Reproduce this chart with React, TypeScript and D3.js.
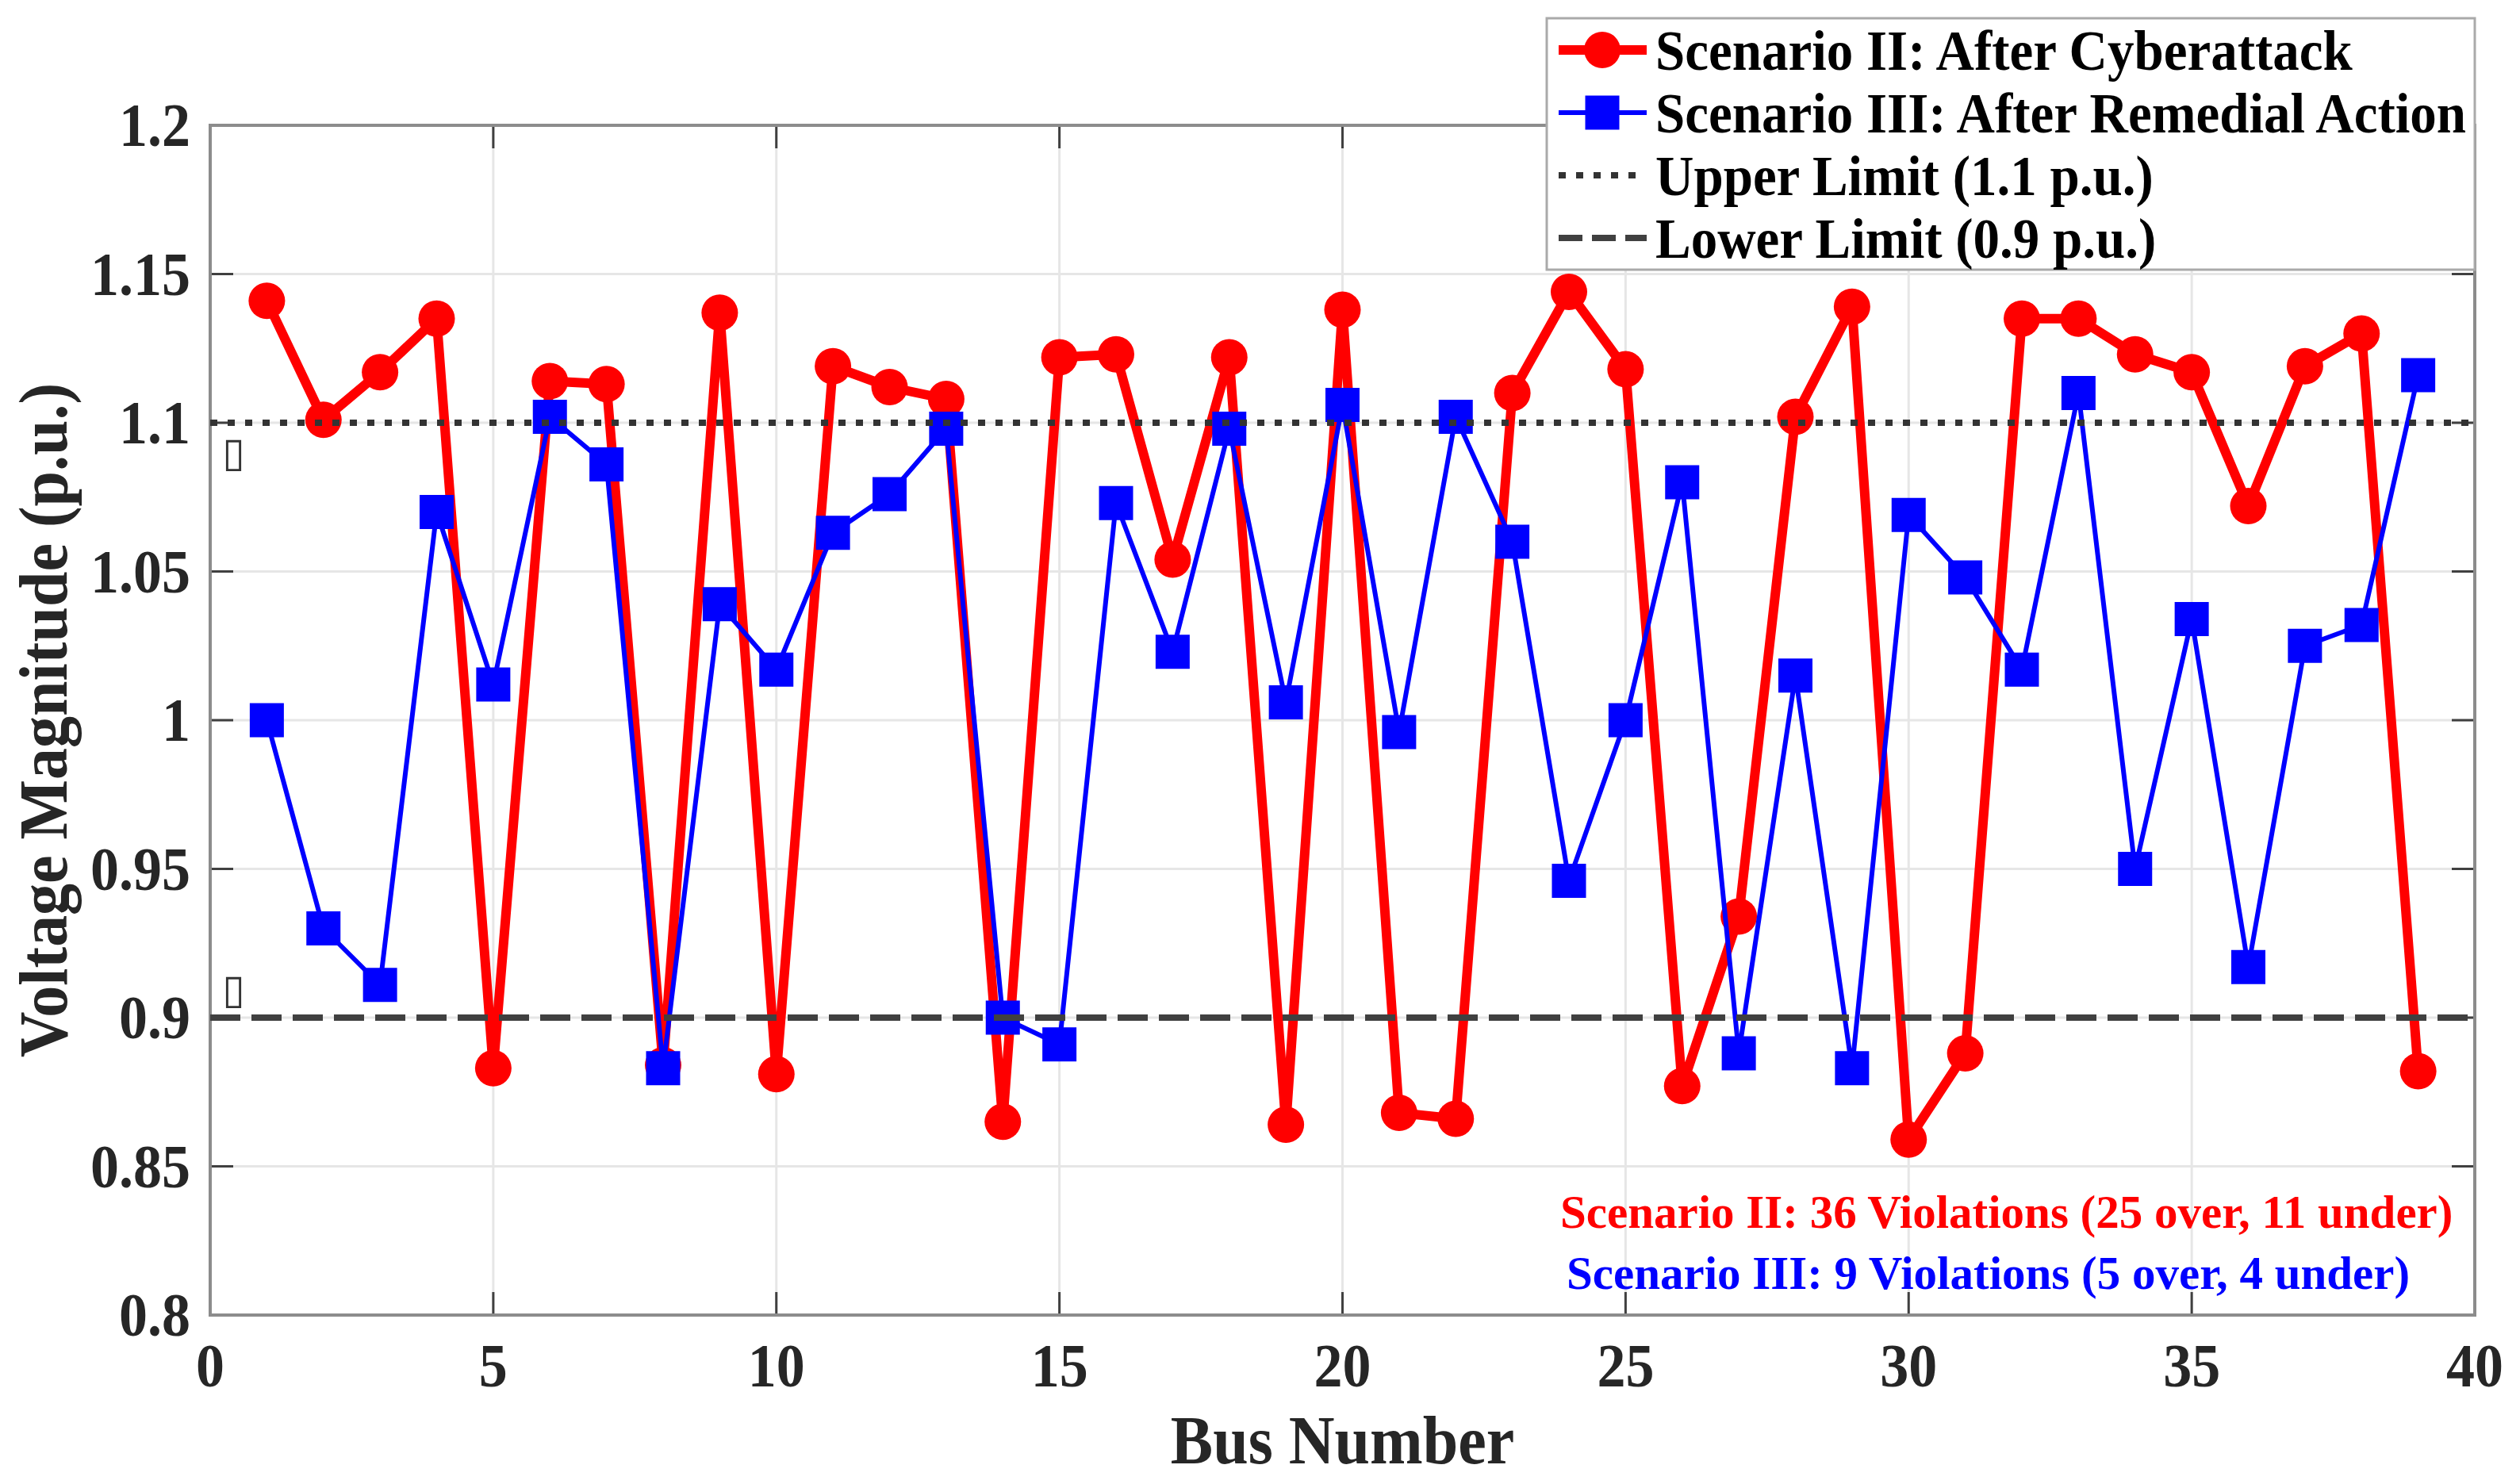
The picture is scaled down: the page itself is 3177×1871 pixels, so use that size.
import React, { useEffect } from "react";
import * as d3 from "d3";

const buses = d3.range(1, 40);
const scenario2 = [
  1.141, 1.101, 1.117, 1.135, 0.883, 1.114, 1.113, 0.884, 1.137, 0.881,
  1.119, 1.112, 1.108, 0.865, 1.122, 1.123, 1.054, 1.122, 0.864, 1.138,
  0.868, 0.866, 1.11, 1.144, 1.118, 0.877, 0.934, 1.102, 1.139, 0.859,
  0.888, 1.135, 1.135, 1.123, 1.117, 1.072, 1.119, 1.13, 0.882,
];
const scenario3 = [
  1.0, 0.93, 0.911, 1.07, 1.012, 1.102, 1.086, 0.883, 1.039, 1.017,
  1.063, 1.076, 1.098, 0.9, 0.891, 1.073, 1.023, 1.098, 1.006, 1.106,
  0.996, 1.102, 1.06, 0.946, 1.0, 1.08, 0.888, 1.015, 0.883, 1.069,
  1.048, 1.017, 1.11, 0.95, 1.034, 0.917, 1.025, 1.032, 1.116,
];
const xTicks = [0, 5, 10, 15, 20, 25, 30, 35, 40];
const yTicks = [0.8, 0.85, 0.9, 0.95, 1.0, 1.05, 1.1, 1.15, 1.2];
const yTickLabels = ["0.8", "0.85", "0.9", "0.95", "1", "1.05", "1.1", "1.15", "1.2"];
const upperLimit = 1.1;
const lowerLimit = 0.9;
const legendLabels = [
  "Scenario II: After Cyberattack",
  "Scenario III: After Remedial Action",
  "Upper Limit (1.1 p.u.)",
  "Lower Limit (0.9 p.u.)",
];
const annotations = [
  "Scenario II: 36 Violations (25 over, 11 under)",
  "Scenario III: 9 Violations (5 over, 4 under)",
];

const W = 3177;
const H = 1871;
const L = 265, R = 3120, T = 158, B = 1658;
const FONT = "'Liberation Serif', 'Times New Roman', serif";
const RED = "#ff0000";
const BLUE = "#0000ff";
const SY = 1.08;

function T2(props: any) {
  const { x, y, children, size, anchor = "start", fill = "#000", rotate = 0 } = props;
  return (
    <text
      transform={`translate(${x},${y}) rotate(${rotate}) scale(1,${SY})`}
      fontFamily={FONT}
      fontWeight="bold"
      fontSize={size}
      textAnchor={anchor}
      fill={fill}
    >
      {children}
    </text>
  );
}

export default function App() {
  useEffect(() => {
    document.body.style.margin = "0";
  }, []);

  const x = d3.scaleLinear().domain([0, 40]).range([L, R]);
  const y = d3.scaleLinear().domain([0.8, 1.2]).range([B, T]);

  const line = d3
    .line<number>()
    .x((_, i) => x(buses[i]))
    .y((d) => y(d));

  const tickLen = 29;
  const dotted = "9 13";
  const dashed = "38 14";

  const legRowY = (i: number) => 63 + i * 79;
  const legX0 = 1965, legX1 = 2076, legMid = 2020, legText = 2087;

  return (
    <svg width={W} height={H} style={{ display: "block", background: "#fff" }}>
      <rect x={0} y={0} width={W} height={H} fill="#fff" />
      {/* grid */}
      <g stroke="#e6e6e6" strokeWidth={3}>
        {xTicks.slice(1, -1).map((t) => (
          <line key={"gx" + t} x1={x(t)} x2={x(t)} y1={T} y2={B} />
        ))}
        {yTicks.slice(1, -1).map((t) => (
          <line key={"gy" + t} x1={L} x2={R} y1={y(t)} y2={y(t)} />
        ))}
      </g>
      {/* ticks */}
      <g stroke="#404040" strokeWidth={3}>
        {xTicks.map((t) => (
          <g key={"tx" + t}>
            <line x1={x(t)} x2={x(t)} y1={B} y2={B - tickLen} />
            <line x1={x(t)} x2={x(t)} y1={T} y2={T + tickLen} />
          </g>
        ))}
        {yTicks.map((t) => (
          <g key={"ty" + t}>
            <line x1={L} x2={L + tickLen} y1={y(t)} y2={y(t)} />
            <line x1={R} x2={R - tickLen} y1={y(t)} y2={y(t)} />
          </g>
        ))}
      </g>
      {/* axes box */}
      <rect x={L} y={T} width={R - L} height={B - T} fill="none" stroke="#8c8c8c" strokeWidth={4} />
      {/* tick labels */}
      {xTicks.map((t) => (
        <T2 key={"lx" + t} x={x(t)} y={1748} size={72} anchor="middle" fill="#262626">
          {String(t)}
        </T2>
      ))}
      {yTicks.map((t, i) => (
        <T2 key={"ly" + t} x={240} y={y(t) + 26} size={72} anchor="end" fill="#262626">
          {yTickLabels[i]}
        </T2>
      ))}
      {/* axis labels */}
      <T2 x={(L + R) / 2} y={1845} size={80} anchor="middle" fill="#262626">
        Bus Number
      </T2>
      <T2 x={84} y={(T + B) / 2} size={80} anchor="middle" rotate={-90} fill="#262626">
        Voltage Magnitude (p.u.)
      </T2>

      {/* scenario II */}
      <path d={line(scenario2) || ""} fill="none" stroke={RED} strokeWidth={12} strokeLinejoin="round" />
      {scenario2.map((v, i) => (
        <circle key={"r" + i} cx={x(buses[i])} cy={y(v)} r={23} fill={RED} />
      ))}
      {/* scenario III */}
      <path d={line(scenario3) || ""} fill="none" stroke={BLUE} strokeWidth={6} strokeLinejoin="round" />
      {scenario3.map((v, i) => (
        <rect key={"b" + i} x={x(buses[i]) - 21.5} y={y(v) - 21.5} width={43} height={43} fill={BLUE} />
      ))}

      {/* limits */}
      <line x1={L} x2={R} y1={y(upperLimit)} y2={y(upperLimit)} stroke="#333" strokeWidth={8} strokeDasharray={dotted} />
      <line x1={L} x2={R} y1={y(lowerLimit)} y2={y(lowerLimit)} stroke="#404040" strokeWidth={8} strokeDasharray={dashed} />
      <text x={280} y={y(upperLimit) + 55} fontFamily="DejaVu Sans" fontSize={52} fill="#333">▯</text>
      <text x={280} y={y(lowerLimit) - 18} fontFamily="DejaVu Sans" fontSize={52} fill="#333">▯</text>

      {/* annotations */}
      <text x={1967} y={1548} fontFamily={FONT} fontWeight="bold" fontSize={59} fill={RED}>
        {annotations[0]}
      </text>
      <text x={1975} y={1625} fontFamily={FONT} fontWeight="bold" fontSize={59} fill={BLUE}>
        {annotations[1]}
      </text>

      {/* legend */}
      <rect x={1950} y={23} width={R - 1950} height={317} fill="#fff" stroke="#aaaaaa" strokeWidth={3} />
      <line x1={legX0} x2={legX1} y1={legRowY(0)} y2={legRowY(0)} stroke={RED} strokeWidth={12} />
      <circle cx={legMid} cy={legRowY(0)} r={23} fill={RED} />
      <line x1={legX0} x2={legX1} y1={legRowY(1)} y2={legRowY(1)} stroke={BLUE} strokeWidth={6} />
      <rect x={legMid - 21.5} y={legRowY(1) - 21.5} width={43} height={43} fill={BLUE} />
      <line x1={legX0} x2={legX1 - 10} y1={legRowY(2)} y2={legRowY(2)} stroke="#333" strokeWidth={8} strokeDasharray={dotted} />
      <line x1={legX0} x2={legX1} y1={legRowY(3)} y2={legRowY(3)} stroke="#404040" strokeWidth={8} strokeDasharray="30 12" />
      {legendLabels.map((s, i) => (
        <T2 key={"lg" + i} x={legText} y={legRowY(i) + 25} size={67}>
          {s}
        </T2>
      ))}
    </svg>
  );
}
